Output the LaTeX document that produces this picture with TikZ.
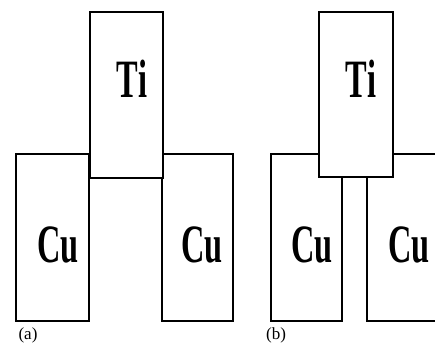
\documentclass[tikz,border=0pt]{standalone}
\usepackage{fontspec}
\setmainfont{Liberation Serif}
\begin{document}
\begin{tikzpicture}[x=1pt,y=-1pt,
  box/.style={draw=black, fill=white, line width=1.4pt, inner sep=0pt, outer sep=0pt, minimum height=167pt},
  elem/.style={font=\fontsize{54}{54}\selectfont\bfseries, inner sep=0pt},
  tag/.style={font=\fontsize{17}{17}\selectfont, inner sep=0pt}]
\useasboundingbox (0,0) rectangle (435,346);
\clip (0,0) rectangle (435,346);
% (a)
\node[box, minimum width=73pt] (cuAL) at (52.5,237.5) {};
\node[box, minimum width=71pt] (cuAR) at (197.5,237.5) {};
\node[box, minimum width=73pt, minimum height=166pt] (tiA) at (126.5,95) {};
\node[elem] (tiAt) at (132,79) {\scalebox{0.6}[1]{Ti}};
\node[elem] (cuALt) at (58,245) {\scalebox{0.6}[1]{Cu}};
\node[elem] (cuARt) at (202,245) {\scalebox{0.6}[1]{Cu}};
\node[tag] (la) at (28,335) {(a)};
% (b)
\node[box, minimum width=71pt] (cuBL) at (306.5,237.5) {};
\node[box, minimum width=78pt] (cuBR) at (406,237.5) {};
\node[box, minimum width=74pt, minimum height=165pt] (tiB) at (356,94.5) {};
\node[elem] (tiBt) at (361,79) {\scalebox{0.6}[1]{Ti}};
\node[elem] (cuBLt) at (312,245) {\scalebox{0.6}[1]{Cu}};
\node[elem] (cuBRt) at (409,245) {\scalebox{0.6}[1]{Cu}};
\node[tag] (lb) at (276,335) {(b)};
\end{tikzpicture}
\end{document}
